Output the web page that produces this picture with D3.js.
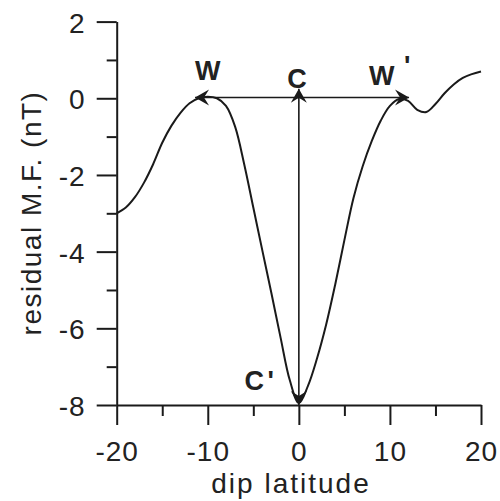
<!DOCTYPE html>
<html>
<head>
<meta charset="utf-8">
<script src="https://cdn.jsdelivr.net/npm/d3@7"></script>
<style>
  body { margin: 0; background: #fff; }
  svg { display: block; }
  text { font-family: "Liberation Sans", Arial, sans-serif; fill: #222; }
</style>
</head>
<body>
<div id="chart"></div>
<script>
// data
const latitude = [-20, -19, -18, -17, -16, -15, -14, -13, -12, -11, -10, -9, -8, -7, -6, -5, -4, -3, -2, -1,
  0, 1, 2, 3, 4, 5, 6, 7, 8, 9, 10, 11, 12, 13, 14, 15, 16, 17, 18, 19, 20];
const residual = [-3.00, -2.85, -2.58, -2.20, -1.72, -1.16, -0.72, -0.38, -0.13, 0.00, 0.04, 0.00, -0.20, -0.74, -1.72, -2.85, -3.98, -5.10, -6.25, -7.35,
  -7.95, -7.50, -6.78, -5.90, -4.85, -3.70, -2.60, -1.78, -1.12, -0.58, -0.20, -0.02, -0.07, -0.30, -0.36, -0.15, 0.13, 0.36, 0.53, 0.63, 0.70];

const xTicks = [-20, -10, 0, 10, 20];
const xMinor = [-15, -5, 5, 15];
const yTicks = [-8, -6, -4, -2, 0, 2];
const yMinor = [-7, -5, -3, -1, 1];

// arrows: [x1, y1, x2, y2] in data units
const widthArrow = [-11.4, 0.02, 12.1, 0.02];
const depthArrow = [0, -8, 0, 0.25];

// point labels: [text, x, y]
const pointLabels = [["W", -10, 0.48], ["C", -0.2, 0.27], ["W", 9.1, 0.35], ["C", -4.9, -7.6]];
const primes = [["'", 11.9, 0.6], ["'", -3.1, -7.6]];

const W = 500, H = 501;
const x = d3.scaleLinear().domain([-20, 20]).range([116.7, 481]);
const y = d3.scaleLinear().domain([-8, 2]).range([405, 21.6]);

const svg = d3.select("#chart").append("svg")
  .attr("width", W)
  .attr("height", H);

//arrowhead
svg.append("defs").append("marker")
  .attr("id", "head")
  .attr("markerUnits", "userSpaceOnUse")
  .attr("viewBox", "-15 -9 16 18")
  .attr("refX", 0)
  .attr("refY", 0)
  .attr("markerWidth", 16)
  .attr("markerHeight", 18)
  .attr("orient", "auto-start-reverse")
  .append("path")
  .attr("d", "M0,0 L-14,-8 L-9,0 L-14,8 Z")
  .style("fill", "#1a1a1a");

//axes
const fontSize = 28;
const fmt = (d) => String(d);

const xAxis = svg.append("g")
  .attr("transform", `translate(0,${y(-8)})`)
  .call(d3.axisBottom(x).tickValues(xTicks).tickSize(20).tickSizeOuter(0).tickPadding(16.5).tickFormat(fmt));
svg.append("g")
  .attr("transform", `translate(0,${y(-8)})`)
  .call(d3.axisBottom(x).tickValues(xMinor).tickSize(11).tickSizeOuter(0).tickFormat(""))
  .select(".domain").remove();

const yAxis = svg.append("g")
  .attr("transform", `translate(${x(-20)},0)`)
  .call(d3.axisLeft(y).tickValues(yTicks).tickSize(20).tickSizeOuter(0).tickPadding(11).tickFormat(fmt));
svg.append("g")
  .attr("transform", `translate(${x(-20)},0)`)
  .call(d3.axisLeft(y).tickValues(yMinor).tickSize(10).tickSizeOuter(0).tickFormat(""))
  .select(".domain").remove();

svg.selectAll(".domain, .tick line")
  .style("stroke", "#1a1a1a")
  .style("stroke-width", 2);

svg.selectAll(".tick text")
  .style("font-size", fontSize + "px")
  .style("font-family", "\"Liberation Sans\", Arial, sans-serif")
  .style("letter-spacing", "1px")
  .style("fill", "#222");
yAxis.selectAll(".tick text").attr("dy", "0.38em");

//axis titles
svg.append("text")
  .attr("x", 291)
  .attr("y", 493)
  .attr("text-anchor", "middle")
  .style("font-size", fontSize + "px")
  .style("letter-spacing", "2px")
  .text("dip latitude");

svg.append("text")
  .attr("transform", "translate(41,213) rotate(-90)")
  .attr("text-anchor", "middle")
  .style("font-size", fontSize + "px")
  .style("letter-spacing", "1.5px")
  .text("residual M.F. (nT)");

//curve
const line = d3.line()
  .x((d, i) => x(latitude[i]))
  .y((d) => y(d))
  .curve(d3.curveCatmullRom.alpha(0.5));

svg.append("path")
  .datum(residual)
  .attr("d", line)
  .style("fill", "none")
  .style("stroke", "#1a1a1a")
  .style("stroke-width", 2);

//arrows
[widthArrow, depthArrow].forEach((a) => {
  svg.append("line")
    .attr("x1", x(a[0]))
    .attr("y1", y(a[1]))
    .attr("x2", x(a[2]))
    .attr("y2", y(a[3]))
    .style("stroke", "#1a1a1a")
    .style("stroke-width", 1.6)
    .attr("marker-start", "url(#head)")
    .attr("marker-end", "url(#head)");
});

//labels
for (let i = 0; i < pointLabels.length; i++) {
  svg.append("text")
    .attr("x", x(pointLabels[i][1]))
    .attr("y", y(pointLabels[i][2]))
    .attr("text-anchor", "middle")
    .style("font-size", "27px")
    .style("font-weight", "bold")
    .text(pointLabels[i][0]);
}
for (let i = 0; i < primes.length; i++) {
  svg.append("text")
    .attr("x", x(primes[i][1]))
    .attr("y", y(primes[i][2]))
    .attr("text-anchor", "middle")
    .style("font-size", "27px")
    .style("font-weight", "bold")
    .text(primes[i][0]);
}
</script>
</body>
</html>
